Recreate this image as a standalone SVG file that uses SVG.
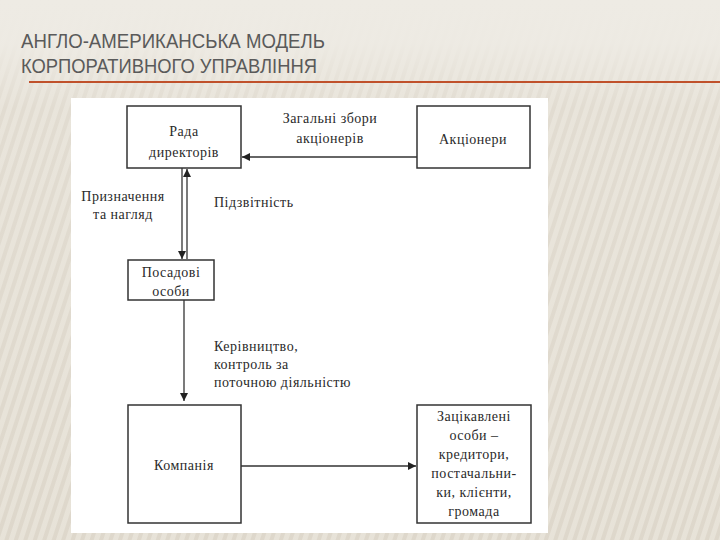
<svg xmlns="http://www.w3.org/2000/svg" width="720" height="540" viewBox="0 0 720 540">
<defs>
<pattern id="stripes" width="9" height="9" patternUnits="userSpaceOnUse" patternTransform="rotate(18)">
<rect width="9" height="9" fill="#E6E1D6"/>
<rect width="4" height="9" fill="#DBD4C7"/>
</pattern>
<linearGradient id="fade" x1="0" y1="0" x2="0" y2="1">
<stop offset="0" stop-color="#EEEBE4" stop-opacity="1"/>
<stop offset="0.08" stop-color="#EEEBE4" stop-opacity="0.95"/>
<stop offset="0.2" stop-color="#EEEBE4" stop-opacity="0.35"/>
<stop offset="1" stop-color="#EEEBE4" stop-opacity="0.15"/>
</linearGradient>
<marker id="arr" viewBox="0 0 10 10" refX="10" refY="5" markerWidth="8" markerHeight="8" markerUnits="userSpaceOnUse" orient="auto">
<path d="M0,0 L10,5 L0,10 z" fill="#222"/>
</marker>
<style>
.box{fill:none;stroke:#333;stroke-width:1.5}
.con{fill:none;stroke:#333;stroke-width:1.3}
.t{font-family:"Liberation Serif","DejaVu Serif",serif;font-size:14px;letter-spacing:0.5px;fill:#2a2a2a}
.title{font-family:"Liberation Sans","DejaVu Sans",sans-serif;font-size:21px;fill:#5a5a5a}
</style>
</defs>
<rect width="720" height="540" fill="url(#stripes)"/>
<rect width="720" height="540" fill="url(#fade)"/>
<text class="title" x="21" y="48" textLength="304" lengthAdjust="spacingAndGlyphs">АНГЛО-АМЕРИКАНСЬКА МОДЕЛЬ</text>
<text class="title" x="21" y="73" textLength="296" lengthAdjust="spacingAndGlyphs">КОРПОРАТИВНОГО УПРАВЛІННЯ</text>
<line x1="29" y1="82" x2="720" y2="82" stroke="#C0512B" stroke-width="2"/>
<rect x="71" y="98" width="477" height="435" fill="#FFFFFF"/>
<g id="connectors">
<line class="con" x1="417" y1="157" x2="242" y2="157" marker-end="url(#arr)"/>
<line class="con" x1="182" y1="168" x2="182" y2="259" marker-end="url(#arr)"/>
<line class="con" x1="187" y1="259" x2="187" y2="169" marker-end="url(#arr)"/>
<line class="con" x1="184" y1="300" x2="184" y2="401" marker-end="url(#arr)"/>
<line class="con" x1="241" y1="466" x2="416" y2="466" marker-end="url(#arr)"/>
<text class="t" x="330" y="123" text-anchor="middle">Загальні збори</text>
<text class="t" x="330" y="143" text-anchor="middle">акціонерів</text>
<text class="t" x="123" y="201" text-anchor="middle">Призначення</text>
<text class="t" x="123" y="219" text-anchor="middle">та нагляд</text>
<text class="t" x="214" y="207">Підзвітність</text>
<text class="t" x="214" y="351">Керівництво,</text>
<text class="t" x="214" y="369">контроль за</text>
<text class="t" x="214" y="387">поточною діяльністю</text>
</g>
<g id="rada">
<rect class="box" x="127" y="106" width="114" height="62"/>
<text class="t" x="184" y="136" text-anchor="middle">Рада</text>
<text class="t" x="184" y="157" text-anchor="middle">директорів</text>
</g>
<g id="akcionery">
<rect class="box" x="417" y="106" width="113" height="62"/>
<text class="t" x="473" y="144" text-anchor="middle">Акціонери</text>
</g>
<g id="posadovi">
<rect class="box" x="128" y="260" width="86" height="40"/>
<text class="t" x="171" y="277" text-anchor="middle">Посадові</text>
<text class="t" x="171" y="296" text-anchor="middle">особи</text>
</g>
<g id="kompaniya">
<rect class="box" x="128" y="405" width="113" height="118"/>
<text class="t" x="184" y="470" text-anchor="middle">Компанія</text>
</g>
<g id="zacikavleni">
<rect class="box" x="417" y="405" width="114" height="118"/>
<text class="t" x="474" y="421" text-anchor="middle">Зацікавлені</text>
<text class="t" x="474" y="440" text-anchor="middle">особи –</text>
<text class="t" x="474" y="459" text-anchor="middle">кредитори,</text>
<text class="t" x="474" y="478" text-anchor="middle">постачальни-</text>
<text class="t" x="474" y="497" text-anchor="middle">ки, клієнти,</text>
<text class="t" x="474" y="516" text-anchor="middle">громада</text>
</g>
</svg>
